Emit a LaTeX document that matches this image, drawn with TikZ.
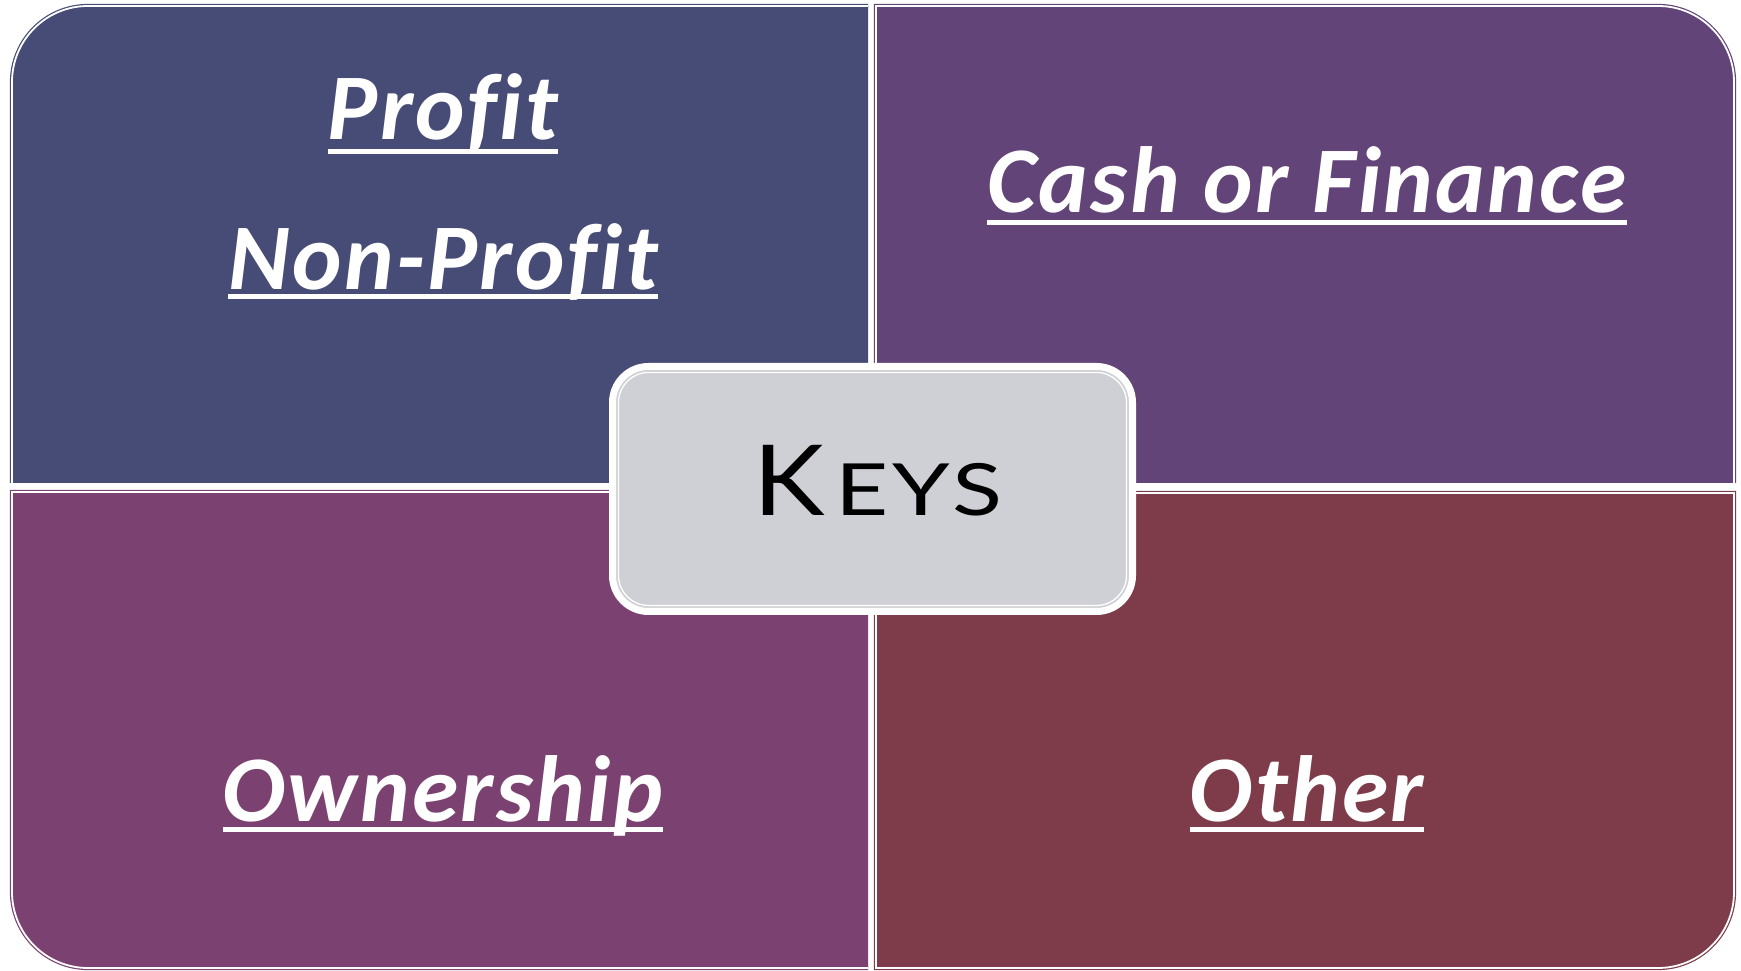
\documentclass[tikz,border=0pt]{standalone}
\usepackage{fontspec}
\setmainfont[Ligatures=CommonOff, LetterSpace=2.6]{Carlito}
\newfontfamily\keysfont[FakeStretch=1.1]{Lato}
\newfontfamily\keyssmall[FakeStretch=1.28, LetterSpace=6]{Lato}
\definecolor{qtl}{RGB}{71,76,119}
\definecolor{qtr}{RGB}{99,68,121}
\definecolor{qbl}{RGB}{123,66,113}
\definecolor{qbr}{RGB}{126,60,74}
\definecolor{keyfill}{RGB}{207,208,213}
\tikzset{
  qborder/.style={draw=#1, line width=1.2pt, double=white, double distance=1.8pt},
  qtext/.style={text=white, inner sep=0pt, anchor=base, font=\fontsize{94}{100}\selectfont\bfseries\itshape},
  uline/.style={draw=white, line width=5pt}
}
\begin{document}
\begin{tikzpicture}[x=1pt,y=1pt]
\useasboundingbox (0,0) rectangle (1741,971);
% top left
\fill[qtl] (868,488) -- (12,488) -- (12,965-76) arc[start angle=180,end angle=90,radius=76] -- (868,965) -- cycle;
\draw[qborder=qtl] (868,965) -- (12+76,965) arc[start angle=90,end angle=180,radius=76] -- (12,488);
% top right
\fill[qtr] (876,488) -- (876,965) -- (1734-76,965) arc[start angle=90,end angle=0,radius=76] -- (1734,488) -- cycle;
\draw[qborder=qtr] (876,488) -- (876,965) -- (1734-76,965) arc[start angle=90,end angle=0,radius=76] -- (1734,488);
% bottom left
\fill[qbl] (868,479) -- (12,479) -- (12,3+76) arc[start angle=180,end angle=270,radius=76] -- (868,3) -- cycle;
\draw[qborder=qbl] (868,479) -- (12,479) -- (12,3+76) arc[start angle=180,end angle=270,radius=76] -- (868,3);
% bottom right
\fill[qbr] (876,478) -- (1734,478) -- (1734,3+76) arc[start angle=0,end angle=-90,radius=76] -- (876,3) -- cycle;
\draw[qborder=qbr] (876,478) -- (1734,478) -- (1734,3+76) arc[start angle=0,end angle=-90,radius=76] -- (876,3) -- cycle;
% texts
\node[qtext] (profit) at (443,831) {Profit};
\draw[uline] ([yshift=-12pt]profit.base west) -- ([yshift=-12pt]profit.base east);
\node[qtext] (nonprofit) at (443,681) {Non-Profit};
\draw[uline] ([yshift=-7pt]nonprofit.base west) -- ([yshift=-7pt]nonprofit.base east);
\node[qtext] (cash) at (1307,758) {Cash or Finance};
\draw[uline] ([yshift=-10pt]cash.base west) -- ([yshift=-10pt]cash.base east);
\node[qtext] (own) at (443,149) {Ownership};
\draw[uline] ([yshift=-8pt]own.base west) -- ([yshift=-8pt]own.base east);
\node[qtext] (other) at (1307,149) {Other};
\draw[uline] ([yshift=-8pt]other.base west) -- ([yshift=-8pt]other.base east);
% center box
\draw[fill=keyfill, draw=white, line width=7pt, rounded corners=36pt] (612.5,359.5) rectangle (1132.5,604.5);
\draw[draw=white, line width=1.3pt, rounded corners=30pt] (618.5,365.5) rectangle (1126.5,598.5);
\node[anchor=base, inner sep=0pt, text=black] (keys) at (878,455) {\keysfont\fontsize{98}{110}\selectfont K\kern10pt\keyssmall\fontsize{72}{80}\selectfont EYS};
\end{tikzpicture}
\end{document}
